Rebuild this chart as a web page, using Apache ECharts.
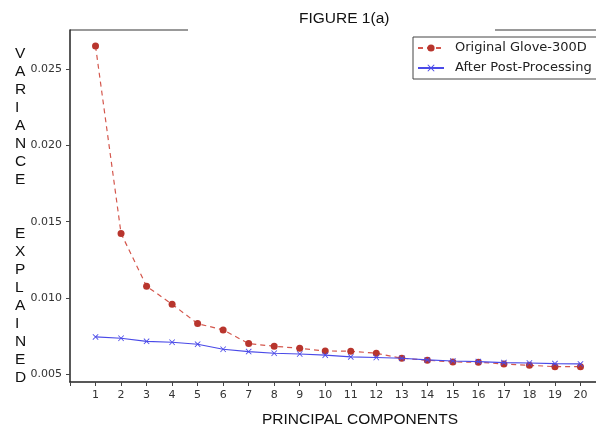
<!DOCTYPE html>
<html>
<head>
<meta charset="utf-8">
<script src="https://cdn.jsdelivr.net/npm/echarts@6/dist/echarts.min.js"></script>
<style>
  html, body { margin: 0; padding: 0; background: #fff; }
  #chart { width: 596px; height: 425px; }
</style>
</head>
<body>
<div id="chart"></div>
<script>
// principal component index 1..20
const components = [1, 2, 3, 4, 5, 6, 7, 8, 9, 10, 11, 12, 13, 14, 15, 16, 17, 18, 19, 20];

// variance explained
const originalGlove = [0.02651, 0.01423, 0.01077, 0.00959, 0.00832, 0.00791, 0.00701, 0.00684, 0.00670, 0.00653,
                       0.00651, 0.00638, 0.00605, 0.00592, 0.00581, 0.00579, 0.00568, 0.00559, 0.00550, 0.00550];
const afterPostProc = [0.00745, 0.00736, 0.00716, 0.00710, 0.00697, 0.00664, 0.00649, 0.00638, 0.00633, 0.00625,
                       0.00614, 0.00610, 0.00605, 0.00594, 0.00587, 0.00583, 0.00577, 0.00574, 0.00570, 0.00568];

const yTicks = [0.005, 0.010, 0.015, 0.020, 0.025];

const seriesNames = ['Original Glove-300D', 'After Post-Processing'];

// x-marker as a thin filled cross
const crossPath = 'path://M0,1 L1,0 L5,4 L9,0 L10,1 L6,5 L10,9 L9,10 L5,6 L1,10 L0,9 L4,5 Z';

var myChart = echarts.init(document.getElementById('chart'));

//---------------------------------- options ----------------------------------
myChart.setOption({
  animation: false,
  title: [
    {
      text: 'FIGURE 1(a)',
      left: 294, top: 6,
      textStyle: { fontFamily: 'Liberation Sans', fontSize: 15.5, fontWeight: 'normal', color: '#111' }
    },
    {
      text: 'V\nA\nR\nI\nA\nN\nC\nE\n\n\nE\nX\nP\nL\nA\nI\nN\nE\nD',
      left: 10, top: 40,
      textStyle: { fontFamily: 'Liberation Sans', fontSize: 15.5, fontWeight: 'normal', color: '#111', lineHeight: 18 }
    },
    {
      text: 'PRINCIPAL COMPONENTS',
      left: 257, top: 407,
      textStyle: { fontFamily: 'Liberation Sans', fontSize: 15.5, fontWeight: 'normal', color: '#111' }
    }
  ],
  legend: {
    data: seriesNames,
    orient: 'vertical',
    left: 413, top: 37,
    padding: [4, 30, 4, 4],
    itemGap: 6,
    itemWidth: 26, itemHeight: 9,
    backgroundColor: '#fff',
    borderColor: '#444',
    borderWidth: 1,
    textStyle: { fontFamily: 'DejaVu Sans', fontSize: 13, color: '#222', lineHeight: 14, padding: [0, 0, 0, 6] }
  },
  grid: { left: 70, width: 536, top: 30, bottom: 43, outerBoundsMode: 'none' },
  xAxis: {
    type: 'value',
    min: 0, max: 21, interval: 1,
    splitLine: { show: false },
    axisLine: { lineStyle: { color: '#222', width: 1.5 } },
    axisTick: { show: true, length: 4, lineStyle: { color: '#444' } },
    axisLabel: {
      margin: 8,
      fontFamily: 'DejaVu Sans', fontSize: 11, color: '#333',
      formatter: v => (components.indexOf(v) >= 0 ? String(v) : '')
    }
  },
  yAxis: {
    type: 'value',
    min: 0.004495, max: 0.027557,
    splitLine: { show: false },
    axisLine: { show: true, lineStyle: { color: '#222', width: 1.5 } },
    axisTick: { show: true, length: 4, customValues: yTicks, lineStyle: { color: '#444' } },
    axisLabel: {
      customValues: yTicks,
      margin: 8,
      fontFamily: 'DejaVu Sans', fontSize: 11, color: '#333',
      formatter: v => v.toFixed(3)
    }
  },
  graphic: [
    { type: 'line', shape: { x1: 70, y1: 30, x2: 188, y2: 30 }, style: { stroke: '#999', lineWidth: 2 } },
    { type: 'line', shape: { x1: 495, y1: 30, x2: 596, y2: 30 }, style: { stroke: '#999', lineWidth: 2 } }
  ],
  series: [
    {
      name: seriesNames[0],
      type: 'line',
      data: components.map((c, i) => [c, originalGlove[i]]),
      symbol: 'circle', symbolSize: 7,
      itemStyle: { color: '#b8352d' },
      lineStyle: { color: '#d4574d', width: 1.2, type: [5, 4] },
      z: 2
    },
    {
      name: seriesNames[1],
      type: 'line',
      data: components.map((c, i) => [c, afterPostProc[i]]),
      symbol: crossPath, symbolSize: 6,
      itemStyle: { color: '#4a4ae8' },
      lineStyle: { color: '#4a4ae8', width: 1.2 },
      z: 3
    }
  ]
});
</script>
</body>
</html>
